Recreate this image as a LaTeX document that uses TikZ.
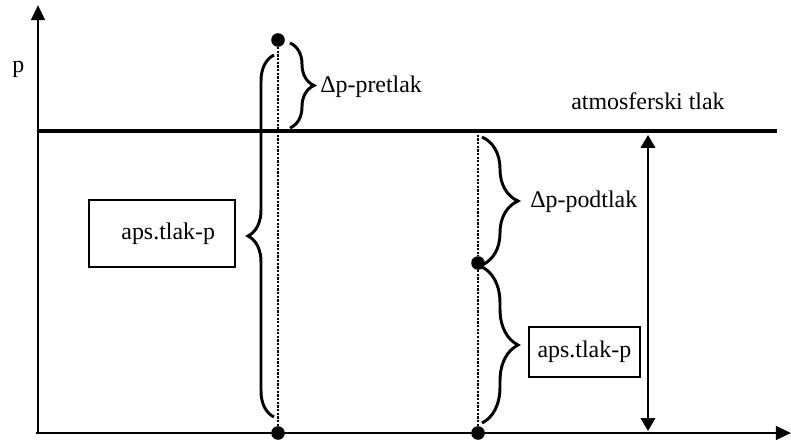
\documentclass[tikz,border=0pt]{standalone}
\usepackage{fontspec}
\setmainfont{Liberation Serif}
\usetikzlibrary{positioning,calc,arrows.meta,decorations.pathreplacing}

\begin{document}
\begin{tikzpicture}[font=\fontsize{17}{20}\selectfont]
	% Configurable lengths
	\def\leftX{6}
	\def\rightX{11}
	\def\atmY{7.55}
	\def\gaugeX{15.25}

	% Styles
	\tikzstyle{axis}=[-{Triangle[length=0.38cm,width=0.34cm]}, line width=2pt]
	\tikzstyle{gauge}=[{Triangle[length=0.32cm,width=0.36cm]}-{Triangle[length=0.32cm,width=0.36cm]}, line width=1.5pt]
	\tikzstyle{dot}=[circle, fill, inner sep=0pt, minimum size=0.34cm]
	\tikzstyle{guide}=[densely dotted, line width=1.6pt]
	\tikzstyle{bracket}=[decorate, line width=2.1pt]
	\tikzstyle{valuebox}=[draw, rectangle, line width=1.6pt]

	\useasboundingbox (-0.95,-0.25) rectangle (18.825,10.825);

	% Axes
	\coordinate (origin) at (0,0);
	\draw[axis] (origin) -- (0,10.7) coordinate (ytip);
	\draw[axis] (-0.05,0) coordinate (xstart) -- (18.825,0) coordinate (xtip);
	\node[anchor=base west, inner sep=0pt] (plabel) at (-0.65,9.0) {p};

	% Atmospheric line
	\draw[line width=3.3pt] (0,\atmY) coordinate (atmL) -- (18.475,\atmY) coordinate (atmR);
	\node[anchor=base, inner sep=0pt] (atmlabel) at (\gaugeX,8.1) {atmosferski tlak};

	% Points
	\node[dot] (peak) at (\leftX,9.825) {};
	\node[dot] (baseL) at (\leftX,0) {};
	\node[dot] (dip) at (\rightX,4.25) {};
	\node[dot] (baseR) at (\rightX,0) {};
	\coordinate (atmCut) at (\rightX,\atmY);

	\draw[guide] (peak) -- (baseL);
	\draw[guide] (atmCut) -- (dip) -- (baseR);

	% Braces
	\draw[bracket, decoration={brace, amplitude=0.6cm}] (6.3,9.75) -- (6.3,7.625);
	\node[anchor=base west, inner sep=0pt] (overlabel) at (7.05,8.5) {Δp-pretlak};

	\draw[bracket, decoration={brace, amplitude=0.65cm}] (5.9,0.4) -- (5.9,9.45);
	\node[valuebox, minimum height=1.675cm, text width=2.65cm, inner xsep=0.5cm, align=right] (absL) at (3.1,4.99) {aps.tlak-p};

	\draw[bracket, decoration={brace, amplitude=0.9cm}] (11.1,7.4) -- (11.1,4.2);
	\node[anchor=base west, inner sep=0pt] (underlabel) at (12.3,5.65) {Δp-podtlak};

	\draw[bracket, decoration={brace, amplitude=0.9cm}] (11.1,4.15) -- (11.1,0.25);
	\node[valuebox, minimum width=2.775cm, minimum height=1.25cm] (absR) at (13.66,2.025) {aps.tlak-p};

	% Gauge arrow
	\coordinate (gaugeB) at (\gaugeX,0.05);
	\coordinate (gaugeT) at (\gaugeX,7.45);
	\draw[gauge] (gaugeB) -- (gaugeT);
\end{tikzpicture}
\end{document}
